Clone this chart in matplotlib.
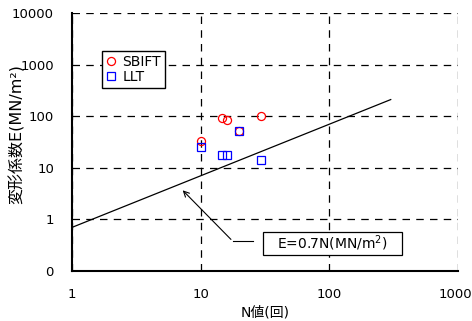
import matplotlib
matplotlib.use("Agg")
import matplotlib.pyplot as plt
import matplotlib.transforms as mtransforms
from matplotlib.patches import Rectangle

plt.rcParams['font.family'] = ['DejaVu Sans', 'Noto Sans CJK JP']
plt.rcParams['mathtext.fontset'] = 'dejavusans'

# data
sbift_n = [10, 14.6, 15.9, 20, 29.5]
sbift_e = [33, 93, 84, 51, 103]
llt_n = [10, 14.6, 15.9, 20, 29.5]
llt_e = [25, 17.4, 17.9, 52, 13.9]

# E = 0.7N
line_n = [1, 300]
line_e = [0.7 * n for n in line_n]

xticks = [1, 10, 100, 1000]
xticklabels = ["1", "10", "100", "1000"]
yticks = [0.1, 1, 10, 100, 1000, 10000]
yticklabels = ["0", "1", "10", "100", "1000", "10000"]

fig = plt.figure(figsize=(4.72, 3.21), dpi=100)
ax = fig.add_axes([72 / 472, 50 / 321, 386 / 472, 258 / 321])

ax.set_xscale("log")
ax.set_yscale("log")
ax.set_xlim(1, 1000)
ax.set_ylim(0.1, 10000)

ax.plot(line_n, line_e, color="black", lw=0.9, zorder=3)
ax.plot(sbift_n, sbift_e, "o", mfc="none", mec="red", ms=5.8, mew=0.9, label="SBIFT", zorder=4)
ax.plot(llt_n, llt_e, "s", mfc="none", mec="blue", ms=5.5, mew=0.9, label="LLT", zorder=4)

ax.set_xticks(xticks)
ax.set_xticklabels(xticklabels)
ax.set_yticks(yticks)
ax.set_yticklabels(yticklabels)
ax.minorticks_off()
ax.tick_params(length=0, labelsize=9.5)
ax.tick_params(axis="x", pad=12)
ax.tick_params(axis="y", pad=13)

# nudge the last x label so it stays on the canvas
last = ax.get_xticklabels()[-1]
last.set_transform(last.get_transform() + mtransforms.ScaledTranslation(-3 / 100, 0, fig.dpi_scale_trans))

ax.grid(True, which="major", color="black", ls=(0, (6, 5)), lw=0.9)
for s in ["top", "right"]:
    ax.spines[s].set_visible(False)
for s in ["left", "bottom"]:
    ax.spines[s].set_linewidth(1.5)

# annotation: arrow + leader line to the box
ax.annotate("", xy=(7.0, 4.0), xytext=(17.8, 0.375),
            arrowprops=dict(arrowstyle="->", color="black", lw=0.8), zorder=5)
ax.plot([17.8, 25.5], [0.375, 0.375], color="black", lw=0.8, clip_on=False)
ax.add_patch(Rectangle((0.494, 0.062), 0.36, 0.088, transform=ax.transAxes,
                       fc="white", ec="black", lw=0.9, zorder=6))
ax.text(0.674, 0.106, "E=0.7N(MN/m$^{2}$)", fontsize=10, va="center", ha="center",
        transform=ax.transAxes, zorder=7)

ax.legend(loc="upper left", bbox_to_anchor=(0.077, 0.852), fontsize=10,
          fancybox=False, edgecolor="black", framealpha=1, handlelength=0.7,
          handletextpad=0.5, borderpad=0.3, labelspacing=0.05, borderaxespad=0)

ax.set_xlabel("N値(回)", fontsize=10)
ax.xaxis.set_label_coords(0.5, -0.135)
ax.set_ylabel("変形係数E(MN/m²)", fontsize=11.5)
ax.yaxis.set_label_coords(-0.122, 0.53)

fig.savefig("out.png", dpi=100)
